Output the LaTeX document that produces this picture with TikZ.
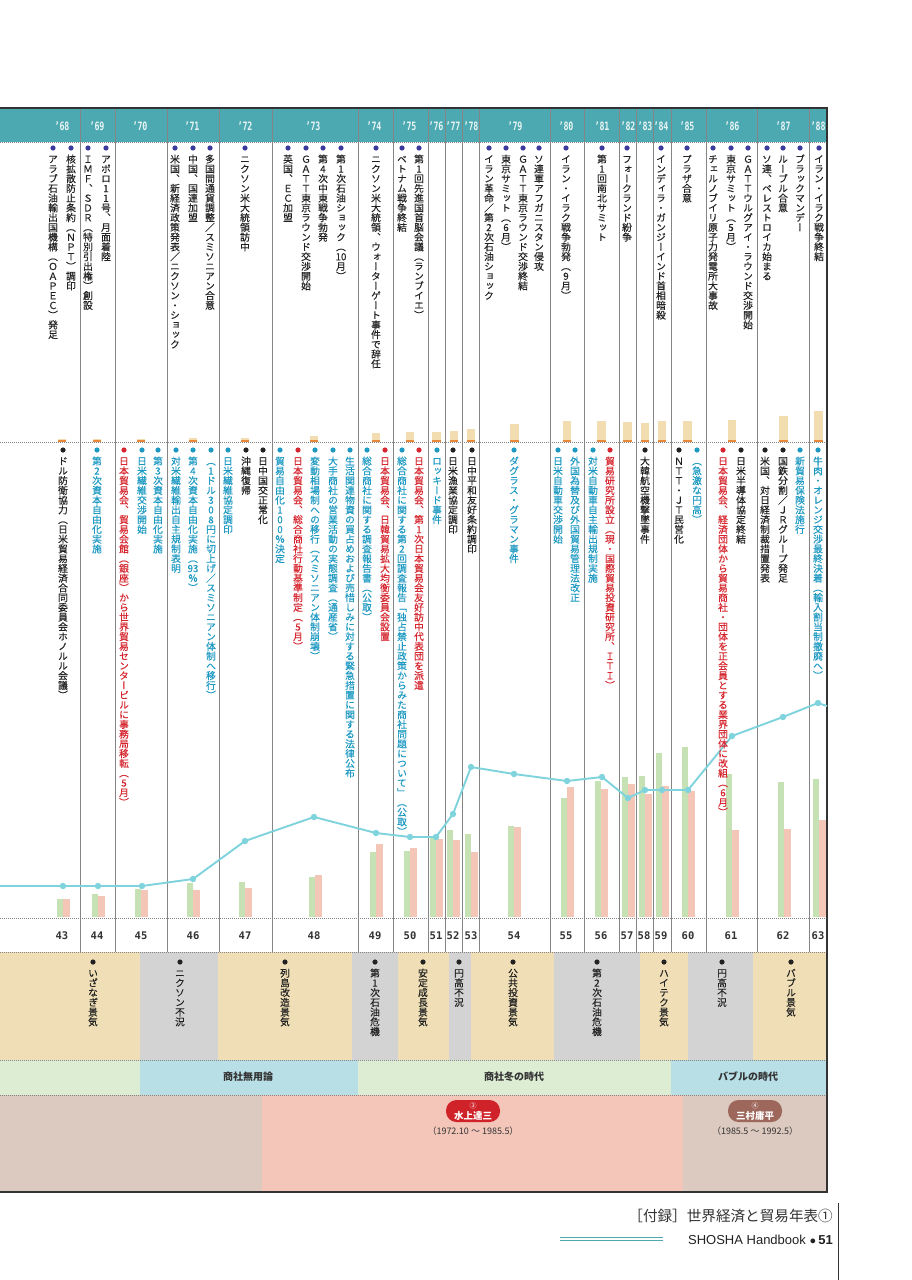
\documentclass[tikz,border=0pt]{standalone}
\usepackage{fontspec}
\setmainfont{Noto Sans CJK JP}
\newfontfamily\jpv[RawFeature=+vert,FakeBold=0.3]{Noto Sans CJK JP}
\newfontfamily\hdrfont[FakeStretch=0.72]{DejaVu Sans Mono}
\newfontfamily\numfont{DejaVu Sans Mono}
\newfontfamily\lsans{Liberation Sans}

\definecolor{hdrteal}{HTML}{4DA9B1}
\definecolor{hdrtxt}{HTML}{E9F4F4}
\definecolor{divc}{HTML}{858585}
\definecolor{wdot}{HTML}{3C3A9C}
\definecolor{tblk}{HTML}{222222}
\definecolor{tblu}{HTML}{1E9AC2}
\definecolor{tred}{HTML}{D6262F}
\definecolor{otan}{HTML}{F2DDB0}
\definecolor{oorg}{HTML}{E8883A}
\definecolor{lcyan}{HTML}{7ED3DC}
\definecolor{bgrn}{HTML}{C6E2B5}
\definecolor{bpnk}{HTML}{F4C6B8}
\definecolor{etan}{HTML}{F0DFB6}
\definecolor{egry}{HTML}{D3D3D3}
\definecolor{agrn}{HTML}{DDEDD4}
\definecolor{ablu}{HTML}{B9DFE6}
\definecolor{pbrn}{HTML}{DCC9BF}
\definecolor{psal}{HTML}{F3C6B9}
\definecolor{pillred}{HTML}{CF2229}
\definecolor{pillbrn}{HTML}{9E675C}
\definecolor{darkc}{HTML}{333333}

% vertical (tategaki) stacking
\def\vtxtendmark{\vtxtend}
\def\vtxtloop#1{\def\vtxtarg{#1}\ifx\vtxtarg\vtxtendmark\else\vtxtchar{#1}\expandafter\vtxtloop\fi}
\newcommand\vtxtchar[1]{\hbox to 1em{\vrule height .88em depth .12em width 0pt\hss#1\hss}}
\newcommand\vtxt[1]{\vbox{\offinterlineskip\jpv\vtxtloop#1\vtxtend}}

\tikzset{
  vtx/.style={anchor=north, inner sep=0pt, font=\fontsize{9.75}{9.75}\selectfont},
  divider/.style={draw=divc, line width=0.8pt},
  dotline/.style={draw=divc, line width=0.7pt, dash pattern=on 0.8pt off 1.2pt},
  yr/.style={inner sep=0pt, text=hdrtxt, font=\hdrfont\bfseries\fontsize{11.5}{12}\selectfont},
  nm/.style={inner sep=0pt, text=darkc, font=\numfont\bfseries\fontsize{10.5}{11}\selectfont},
  era/.style={inner sep=0pt, text=darkc, font=\bfseries\fontsize{10}{10}\selectfont},
  pill/.style={rounded corners=10.5pt, minimum width=54pt, minimum height=22pt, inner sep=0pt, text=white, align=center},
  chartline/.style={draw=lcyan, line width=1.9pt, line join=round},
}
\newcommand\evt[6]{\fill[#4] (#2,#3) circle (2.6pt);
  \node[vtx,text=#5] (#1) at (#2,#3+6) {\vtxt{#6}};}
\newcommand\gp[4]{\fill[bgrn] (#1-6.5,#2) rectangle (#1,917);
  \fill[bpnk] (#1,#3) rectangle (#1+6.5,917);}
\newcommand\ob[2]{\fill[otan] (#1-4.3,#2) rectangle (#1+4.3,442);
  \fill[oorg] (#1-4.3,439.6) rectangle (#1+4.3,442);}

\begin{document}
\begin{tikzpicture}[x=1pt,y=-1pt]
\useasboundingbox (0,0) rectangle (912,1280);
\fill[white] (0,0) rectangle (912,1280);

% header band
\fill[hdrteal] (0,108) rectangle (827,142);

% economy band
\foreach \a/\b/\c in {0/140/etan,140/218/egry,218/352/etan,352/398/egry,398/449/etan,449/471/egry,471/554/etan,554/640/egry,640/688/etan,688/753/egry,753/827/etan}
  \fill[\c] (\a,952) rectangle (\b,1060);
% era band
\foreach \a/\b/\c in {0/140/agrn,140/358/ablu,358/671/agrn,671/827/ablu}
  \fill[\c] (\a,1060) rectangle (\b,1095);
% president band
\foreach \a/\b/\c in {0/262/pbrn,262/683/psal,683/827/pbrn}
  \fill[\c] (\a,1095) rectangle (\b,1192);

% dividers
\foreach \x in {80,115,167,219,272,358,393,428,445,462,479,550,584,619,636,653,671,706,757,809}
  \draw[divider] (\x,108) -- (\x,952);

% dotted lines
\foreach \y in {142,442,918,952,1060,1095}
  \draw[dotline] (0,\y) -- (827,\y);

% borders
\draw[darkc, line width=2pt] (0,108) -- (828,108);
\draw[darkc, line width=1.2pt] (827,108) -- (827,1192);
\draw[darkc, line width=2pt] (0,1192) -- (828,1192);

% header years
\foreach \x/\t [count=\i] in {62/68,97/69,140/70,192/71,245/72,313/73,374/74,409/75,436/76,453/77,471/78,515/79,566/80,602/81,628/82,645/83,661/84,687/85,732/86,783/87,818/88}
  \node[yr] (yr\i) at (\x,126) {’\t};

% small orange bars
\ob{62}{439}\ob{97}{438.5}\ob{141}{438.5}\ob{193}{437.5}\ob{245}{437.5}\ob{314}{435.5}
\ob{376}{433}\ob{410}{432}\ob{436.5}{432}\ob{454}{431}\ob{471}{429}\ob{514.5}{424}
\ob{567}{421}\ob{601.5}{421}\ob{627.5}{422}\ob{645}{423}\ob{662}{421}\ob{687.5}{421}
\ob{732}{420}\ob{783.5}{416}\ob{818.5}{411}

% green / pink bars
\gp{63}{899}{899}{}\gp{98}{894}{896}{}\gp{141}{889}{890}{}\gp{193}{883}{890}{}
\gp{245}{882}{888}{}\gp{315}{877}{875}{}\gp{376}{852}{844}{}\gp{410}{851}{848}{}
\gp{436}{836}{839}{}\gp{453}{830}{840}{}\gp{471}{834}{852}{}\gp{514}{826}{827}{}
\gp{567}{798}{787}{}\gp{601}{781}{789}{}\gp{628}{777}{784}{}\gp{645}{776}{794}{}
\gp{662}{753}{786}{}\gp{688}{747}{791}{}\gp{732}{774}{830}{}\gp{784}{782}{829}{}
\gp{819}{779}{820}{}

% line chart
\coordinate (c0) at (0,886);
\foreach \x/\y [count=\i] in {63/886,98/886,142/886,193/879,245/841,314/817,376/833,410/837,436/837,453/814,471/767,514/774,567/781,602/777,628/798,645/790,662/790,688/790,732/736,783/717,818/703}
  \coordinate (c\i) at (\x,\y);
\coordinate (c22) at (827,706);
\draw[chartline] (c0) -- (c1) -- (c2) -- (c3) -- (c4) -- (c5) -- (c6) -- (c7) -- (c8) -- (c9) -- (c10) -- (c11) -- (c12) -- (c13) -- (c14) -- (c15) -- (c16) -- (c17) -- (c18) -- (c19) -- (c20) -- (c21) -- (c22);
\foreach \i in {1,...,21} \fill[lcyan] (c\i) circle (3.2pt);

% numbers row
\foreach \x/\t [count=\i] in {62/43,97/44,141/45,193/46,245/47,314/48,375/49,410/50,436/51,453/52,471/53,514/54,566/55,601/56,627/57,644/58,661/59,688/60,731/61,783/62,818/63}
  \node[nm] (n\i) at (\x,936) {\t};

% world events
\evt{w1}{53}{148}{wdot}{tblk}{アラブ石油輸出国機構（ＯＡＰＥＣ）発足}
\evt{w2}{71}{148}{wdot}{tblk}{核拡散防止条約（ＮＰＴ）調印}
\evt{w3}{88}{148}{wdot}{tblk}{ＩＭＦ、ＳＤＲ（特別引出権）創設}
\evt{w4}{106}{148}{wdot}{tblk}{アポロ11号、月面着陸}
\evt{w5}{175}{148}{wdot}{tblk}{米国、新経済政策発表／ニクソン・ショック}
\evt{w6}{193}{148}{wdot}{tblk}{中国、国連加盟}
\evt{w7}{210}{148}{wdot}{tblk}{多国間通貨調整／スミソニアン合意}
\evt{w8}{245}{148}{wdot}{tblk}{ニクソン米大統領訪中}
\evt{w9}{288}{148}{wdot}{tblk}{英国、ＥＣ加盟}
\evt{w10}{306}{148}{wdot}{tblk}{ＧＡＴＴ東京ラウンド交渉開始}
\evt{w11}{323}{148}{wdot}{tblk}{第4次中東戦争勃発}
\evt{w12}{341}{148}{wdot}{tblk}{第1次石油ショック（{10}月）}
\evt{w13}{376}{148}{wdot}{tblk}{ニクソン米大統領、ウォーターゲート事件で辞任}
\evt{w14}{402}{148}{wdot}{tblk}{ベトナム戦争終結}
\evt{w15}{419}{148}{wdot}{tblk}{第1回先進国首脳会議（ランブイエ）}
\evt{w16}{489}{148}{wdot}{tblk}{イラン革命／第2次石油ショック}
\evt{w17}{506}{148}{wdot}{tblk}{東京サミット（6月）}
\evt{w18}{523}{148}{wdot}{tblk}{ＧＡＴＴ東京ラウンド交渉終結}
\evt{w19}{539}{148}{wdot}{tblk}{ソ連軍アフガニスタン侵攻}
\evt{w20}{566}{148}{wdot}{tblk}{イラン・イラク戦争勃発（9月）}
\evt{w21}{602}{148}{wdot}{tblk}{第1回南北サミット}
\evt{w22}{627}{148}{wdot}{tblk}{フォークランド紛争}
\evt{w23}{661}{148}{wdot}{tblk}{インディラ・ガンジーインド首相暗殺}
\evt{w24}{687}{148}{wdot}{tblk}{プラザ合意}
\evt{w25}{713}{148}{wdot}{tblk}{チェルノブイリ原子力発電所大事故}
\evt{w26}{731}{148}{wdot}{tblk}{東京サミット（5月）}
\evt{w27}{748}{148}{wdot}{tblk}{ＧＡＴＴウルグアイ・ラウンド交渉開始}
\evt{w28}{767}{148}{wdot}{tblk}{ソ連、ペレストロイカ始まる}
\evt{w29}{783}{148}{wdot}{tblk}{ルーブル合意}
\evt{w30}{800}{148}{wdot}{tblk}{ブラックマンデー}
\evt{w31}{819}{148}{wdot}{tblk}{イラン・イラク戦争終結}

% Japan events
\evt{j1}{63}{450}{tblk}{tblk}{ドル防衛協力（日米貿易経済合同委員会ホノルル会議）}
\evt{j2}{97}{450}{tblu}{tblu}{第2次資本自由化実施}
\evt{j3}{124}{450}{tred}{tred}{日本貿易会、貿易会館（銀座）から世界貿易センタービルに事務局移転（5月）}
\evt{j4}{142}{450}{tblu}{tblu}{日米繊維交渉開始}
\evt{j5}{158}{450}{tblu}{tblu}{第3次資本自由化実施}
\evt{j6}{176}{450}{tblu}{tblu}{対米繊維輸出自主規制表明}
\evt{j7}{193}{450}{tblu}{tblu}{第4次資本自由化実施（{93}％）}
\evt{j8}{211}{450}{tblu}{tblu}{（1ドル308円に切上げ／スミソニアン体制へ移行）}
\evt{j9}{228}{450}{tblu}{tblu}{日米繊維協定調印}
\evt{j10}{246}{450}{tblk}{tblk}{沖縄復帰}
\evt{j11}{263}{450}{tblk}{tblk}{日中国交正常化}
\evt{j12}{280}{450}{tblu}{tblu}{貿易自由化100％決定}
\evt{j13}{298}{450}{tred}{tred}{日本貿易会、総合商社行動基準制定（5月）}
\evt{j14}{315}{450}{tblu}{tblu}{変動相場制への移行（スミソニアン体制崩壊）}
\evt{j15}{333}{450}{tblu}{tblu}{大手商社の営業活動の実態調査（通産省）}
\evt{j16}{350}{450}{tblu}{tblu}{生活関連物資の買占めおよび売惜しみに対する緊急措置に関する法律公布}
\evt{j17}{367}{450}{tblu}{tblu}{総合商社に関する調査報告書（公取）}
\evt{j18}{385}{450}{tred}{tred}{日本貿易会、日韓貿易拡大均衡委員会設置}
\evt{j19}{402}{450}{tblu}{tblu}{総合商社に関する第2回調査報告「独占禁止政策からみた商社問題について」（公取）}
\evt{j20}{419}{450}{tred}{tred}{日本貿易会、第1次日本貿易会友好訪中代表団を派遣}
\evt{j21}{437}{450}{tblu}{tblu}{ロッキード事件}
\evt{j22}{453}{450}{tblk}{tblk}{日米漁業協定調印}
\evt{j23}{472}{450}{tblk}{tblk}{日中平和友好条約調印}
\evt{j24}{514}{450}{tblu}{tblu}{ダグラス・グラマン事件}
\evt{j25}{558}{450}{tblu}{tblu}{日米自動車交渉開始}
\evt{j26}{575}{450}{tblu}{tblu}{外国為替及び外国貿易管理法改正}
\evt{j27}{593}{450}{tblu}{tblu}{対米自動車自主輸出規制実施}
\evt{j28}{610}{450}{tred}{tred}{貿易研究所設立（現・国際貿易投資研究所、ＩＴＩ）}
\evt{j29}{645}{450}{tblk}{tblk}{大韓航空機撃墜事件}
\evt{j30}{679}{450}{tblk}{tblk}{ＮＴＴ・ＪＴ民営化}
\evt{j31}{697}{450}{tblu}{tblu}{（急激な円高）}
\evt{j32}{723}{450}{tred}{tred}{日本貿易会、経済団体から貿易商社・団体を正会員とする業界団体に改組（6月）}
\evt{j33}{741}{450}{tblk}{tblk}{日米半導体協定終結}
\evt{j34}{765}{450}{tblk}{tblk}{米国、対日経済制裁措置発表}
\evt{j35}{783}{450}{tblk}{tblk}{国鉄分割／ＪＲグループ発足}
\evt{j36}{800}{450}{tblu}{tblu}{新貿易保険法施行}
\evt{j37}{818}{450}{tblu}{tblu}{牛肉・オレンジ交渉最終決着（輸入割当制撤廃へ）}

% economy labels
\evt{e1}{93}{962}{tblk}{tblk}{いざなぎ景気}
\evt{e2}{180}{962}{tblk}{tblk}{ニクソン不況}
\evt{e3}{285}{962}{tblk}{tblk}{列島改造景気}
\evt{e4}{375}{962}{tblk}{tblk}{第1次石油危機}
\evt{e5}{423}{962}{tblk}{tblk}{安定成長景気}
\evt{e6}{459}{962}{tblk}{tblk}{円高不況}
\evt{e7}{513}{962}{tblk}{tblk}{公共投資景気}
\evt{e8}{597}{962}{tblk}{tblk}{第2次石油危機}
\evt{e9}{664}{962}{tblk}{tblk}{ハイテク景気}
\evt{e10}{722}{962}{tblk}{tblk}{円高不況}
\evt{e11}{791}{962}{tblk}{tblk}{バブル景気}

% era labels
\node[era] (a1) at (248,1077) {商社無用論};
\node[era] (a2) at (514,1077) {商社冬の時代};
\node[era] (a3) at (748,1077) {バブルの時代};

% presidents
\node[pill, fill=pillred] (p3) at (473,1111) {{\fontsize{7}{7}\selectfont ③}\\[-1pt]{\bfseries\fontsize{9.5}{10}\selectfont 水上達三}};
\node[inner sep=0pt, text=darkc, font=\fontsize{9}{9}\selectfont] (d3) at (473,1131) {（1972.10 ～ 1985.5）};
\node[pill, fill=pillbrn] (p4) at (755,1111) {{\fontsize{7}{7}\selectfont ④}\\[-1pt]{\bfseries\fontsize{9.5}{10}\selectfont 三村庸平}};
\node[inner sep=0pt, text=darkc, font=\fontsize{9}{9}\selectfont] (d4) at (755,1131) {（1985.5 ～ 1992.5）};

% footer
\node[anchor=base east, inner sep=0pt, text=darkc, font=\fontsize{14.6}{15}\selectfont] (ft1) at (833,1221) {［付録］世界経済と貿易年表①};
\node[anchor=base east, inner sep=0pt, text=tblk, font=\lsans\fontsize{13}{14}\selectfont] (ft2) at (833,1244) {SHOSHA Handbook {\fontsize{11}{11}\selectfont●}\,\textbf{51}};
\draw[hdrteal, line width=0.8pt] (560,1237.5) -- (663,1237.5);
\draw[hdrteal, line width=0.8pt] (560,1240.5) -- (663,1240.5);
\draw[darkc, line width=0.7pt] (838,1203) -- (838,1280);
\end{tikzpicture}
\end{document}
